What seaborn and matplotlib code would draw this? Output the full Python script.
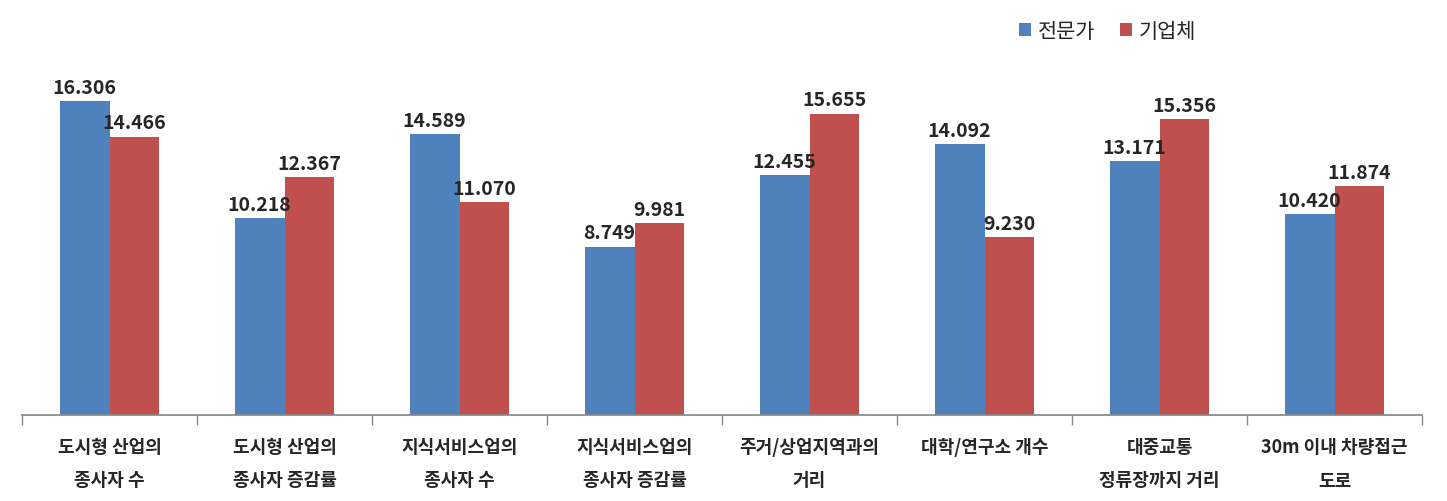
import seaborn as sns
import pandas as pd
import matplotlib.pyplot as plt

categories = ['도시형 산업의\n종사자 수', '도시형 산업의\n종사자 증감률', '지식서비스업의\n종사자 수',
              '지식서비스업의\n종사자 증감률', '주거/상업지역과의\n거리', '대학/연구소 개수',
              '대중교통\n정류장까지 거리', '30m 이내 차량접근\n도로']
expert = [16.306, 10.218, 14.589, 8.749, 12.455, 14.092, 13.171, 10.420]
company = [14.466, 12.367, 11.070, 9.981, 15.655, 9.230, 15.356, 11.874]
series = ['전문가', '기업체']

sns.set_theme(style='white')
plt.rcParams['font.family'] = ['Noto Sans CJK KR', 'DejaVu Sans']

df = pd.DataFrame({
    'cat': categories * 2,
    'value': expert + company,
    'series': [series[0]] * len(categories) + [series[1]] * len(categories),
})

fig = plt.figure(figsize=(14.47, 5.02), dpi=100)
ax = fig.add_axes([22 / 1447, 86 / 502, 1400 / 1447, 385 / 502])
sns.barplot(data=df, x='cat', y='value', hue='series', palette=['#4F81BD', '#C0504D'],
            width=0.57, gap=0, saturation=1, ax=ax, errorbar=None, linewidth=0)

for cont in ax.containers:
    ax.bar_label(cont, fmt='%.3f', fontsize=14, fontweight='bold', padding=3)

ax.set_ylim(0, 20)
ax.set_xlim(-0.5, len(categories) - 0.5)
ax.set_xlabel('')
ax.set_ylabel('')
ax.set_yticks([])
for side in ['left', 'right', 'top']:
    ax.spines[side].set_visible(False)
ax.spines['bottom'].set_color('#888888')
ax.set_xticks([i - 0.5 for i in range(len(categories) + 1)], minor=True)
ax.tick_params(axis='x', which='minor', length=7, color='#888888', bottom=True)
ax.tick_params(axis='x', which='major', length=0, pad=16)
ax.set_xticks(range(len(categories)))
ax.set_xticklabels(categories, fontsize=13, fontweight='bold', linespacing=1.95)

ax.legend_.remove()
handles, labels = ax.get_legend_handles_labels()
fig.legend(handles, labels, loc='center left', bbox_to_anchor=(1000 / 1447, 1 - 32 / 502), ncol=2,
           frameon=False, fontsize=15, handlelength=0.6, handleheight=0.6, handletextpad=0.3,
           columnspacing=1.2)

fig.savefig('out.png', dpi=100)
